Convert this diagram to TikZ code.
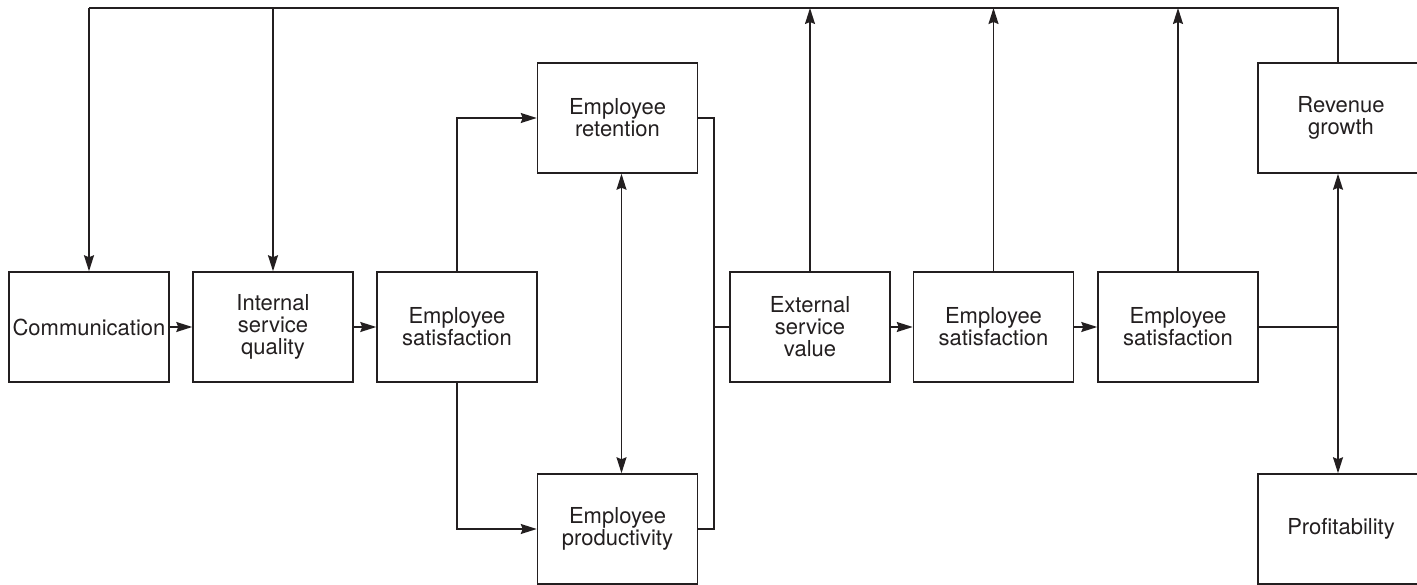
\documentclass[tikz,border=0pt]{standalone}
\usepackage{fontspec}
\setmainfont{TeX Gyre Heros}
\usetikzlibrary{arrows.meta}
\definecolor{ink}{RGB}{35,31,32}
\begin{document}
\begin{tikzpicture}[x=1pt,y=-1pt,
  box/.style={draw=ink, line width=1.5pt, minimum width=160pt, minimum height=110pt,
    inner sep=0pt, align=center, text=ink, font=\fontsize{22}{22}\selectfont},
  edgebox/.style={box, minimum width=166pt},
  link/.style={draw=ink, line width=1.5pt},
  tip/.tip={Stealth[length=16pt,width=10pt,inset=2pt]},
  arr/.style={link, -tip},
  darr/.style={link, tip-tip}]
\useasboundingbox (0,0) rectangle (1417,585);

% main row
\node[box] (comm) at (89,327)    {Communication};
\node[box] (isq)  at (273,327)   {Internal\\service\\quality};
\node[box] (es1)  at (457,327)   {Employee\\satisfaction};
\node[box] (esv)  at (810,327)   {External\\service\\value};
\node[box] (es2)  at (993.5,327) {Employee\\satisfaction};
\node[box] (es3)  at (1178,327)  {Employee\\satisfaction};
% branches
\node[box] (ret)  at (617.5,118) {Employee\\retention};
\node[box] (prod) at (617.5,529) {Employee\\productivity};
\node[edgebox] (rev)  at (1341,118)  {Revenue\\growth};
\node[edgebox] (prof) at (1341,529)  {Profitability};

% junction points
\coordinate (tl) at (89,8);
\coordinate (tr) at (1338,8);
\coordinate (jm) at (714,327);
\coordinate (jr) at (1338,327);

% feedback line along the top
\draw[link] (rev.north -| tr) -- (tr) -- (tl);
\draw[arr] (tl) -- (comm.north);
\draw[arr] (isq.north |- tl) -- (isq.north);
\draw[arr] (esv.north) -- (esv.north |- tl);
\draw[arr] (es2.north) -- (es2.north |- tl);
\draw[arr] (es3.north) -- (es3.north |- tl);

% forward chain
\draw[arr] (comm) -- (isq);
\draw[arr] (isq) -- (es1);
\draw[arr] (es1.north) |- (ret.west);
\draw[arr] (es1.south) |- (prod.west);
\draw[darr] ([xshift=4pt]ret.south) -- ([xshift=4pt]prod.north);
\draw[link] (ret.east) -| (jm) |- (prod.east);
\draw[link] (jm) -- (esv.west);
\draw[arr] (esv) -- (es2);
\draw[arr] (es2) -- (es3);
\draw[link] (es3.east) -- (jr);
\draw[arr] (jr) -- (rev.south -| jr);
\draw[arr] (jr) -- (prof.north -| jr);
\end{tikzpicture}
\end{document}
